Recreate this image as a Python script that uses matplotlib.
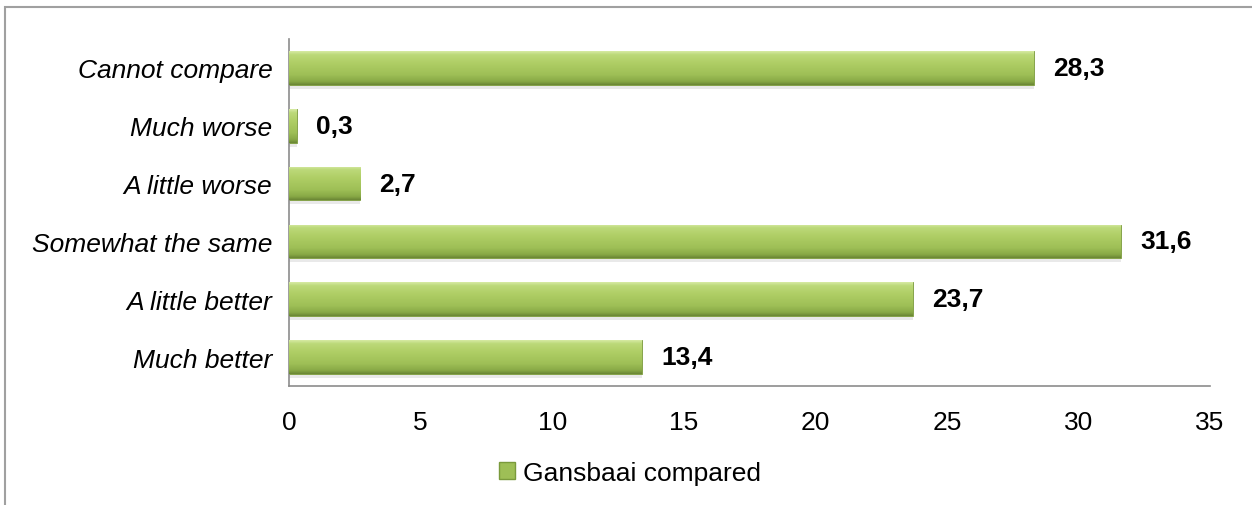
import numpy as np
import matplotlib.pyplot as plt
from matplotlib.colors import LinearSegmentedColormap
from matplotlib.patches import Rectangle

categories = ['Much better', 'A little better', 'Somewhat the same',
              'A little worse', 'Much worse', 'Cannot compare']
values = [13.4, 23.7, 31.6, 2.7, 0.3, 28.3]
value_labels = ['13,4', '23,7', '31,6', '2,7', '0,3', '28,3']
series_name = 'Gansbaai compared'
xticks = [0, 5, 10, 15, 20, 25, 30, 35]

plt.rcParams['font.family'] = ['Liberation Sans', 'DejaVu Sans']

fig = plt.figure(figsize=(12.52, 5.06), dpi=100)
ax = fig.add_axes([289 / 1252, 1 - 387 / 506, (1210 - 289) / 1252, (387 - 40) / 506])

# outer chart frame (cut at right and bottom like the reference)
fig.patches.append(Rectangle((5 / 1252, -0.1), 1.2, 1 - 8 / 506 + 0.1,
                             transform=fig.transFigure, fill=False,
                             edgecolor='#a0a0a0', linewidth=1.5))

grad = LinearSegmentedColormap.from_list(
    'olive', [(0.0, '#6b8735'), (0.1, '#88a946'), (0.3, '#9ebf56'),
              (0.65, '#afce65'), (0.9, '#bcd979'), (1.0, '#d6eaa2')])
grad_img = np.linspace(0, 1, 64).reshape(-1, 1)

y = np.arange(len(categories))
height = 0.58
# soft shadow under bars
ax.barh(y - 0.07, values, height=height, color='#d4d4d4', alpha=0.5,
        edgecolor='none', zorder=1)
bars = ax.barh(y, values, height=height, color='#a3c35b',
               edgecolor='#7a9a3c', linewidth=0.6, label=series_name, zorder=2)
for b in bars:
    x0, y0 = b.get_x(), b.get_y()
    w, h = b.get_width(), b.get_height()
    im = ax.imshow(grad_img, cmap=grad, aspect='auto', origin='lower',
                   extent=[x0, x0 + w, y0, y0 + h], zorder=3)
    im.set_clip_path(b)

for yi, v, lab in zip(y, values, value_labels):
    ax.annotate(lab, (v, yi), xytext=(14, 0), textcoords='offset points',
                ha='left', va='center', fontsize=19, fontweight='bold')

ax.set_xlim(0, 35)
ax.set_ylim(-0.5, len(categories) - 0.5)
ax.set_xticks(xticks)
ax.set_xticklabels([str(t) for t in xticks], fontsize=19)
ax.set_yticks(y)
ax.set_yticklabels(categories, fontsize=19, style='italic')
ax.tick_params(axis='both', length=0)
ax.tick_params(axis='x', pad=17)
ax.tick_params(axis='y', pad=12)
for s in ['top', 'right']:
    ax.spines[s].set_visible(False)
for s in ['left', 'bottom']:
    ax.spines[s].set_color('#8c8c8c')
    ax.spines[s].set_linewidth(1.2)

leg = fig.legend(handles=[Rectangle((0, 0), 1, 1, facecolor='#9ebf56',
                                    edgecolor='#7a9a3c')],
                 labels=[series_name], loc='center',
                 bbox_to_anchor=(630 / 1252, 1 - 474 / 506), frameon=False,
                 fontsize=19, handlelength=0.6, handleheight=0.6,
                 handletextpad=0.3)

fig.savefig('out.png', dpi=100)
